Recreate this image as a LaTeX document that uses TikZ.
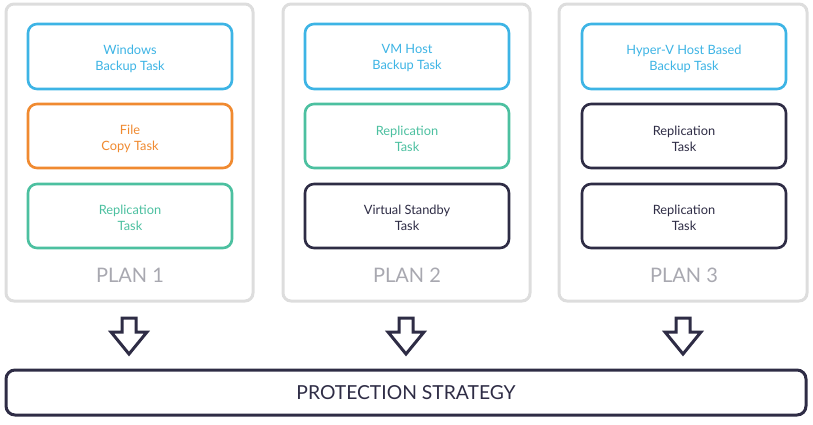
\documentclass[tikz,border=0pt]{standalone}
\usepackage{fontspec}
\setmainfont{Lato}
\begin{document}
\begin{tikzpicture}[x=1pt,y=-1pt,
  plan/.style={draw=planGray, line width=3pt, rounded corners=8pt},
  task/.style={line width=2.6pt, rounded corners=9pt, fill=white},
  tasktext/.style={align=center, font=\fontsize{12.8}{16}\selectfont},
  planlabel/.style={text=planText, font=\fontsize{20}{22}\selectfont},
  bigarrow/.style={draw=darkC, line width=3pt, line join=miter, fill=white}
]
\definecolor{planGray}{HTML}{DDDDDD}
\definecolor{planText}{HTML}{A8A8B0}
\definecolor{blueC}{HTML}{3DB4E5}
\definecolor{orangeC}{HTML}{F08A30}
\definecolor{tealC}{HTML}{4CC0A0}
\definecolor{darkC}{HTML}{2E2C45}
\useasboundingbox (0,0) rectangle (813,424);

% plan containers
\draw[plan] (6,4) rectangle (253,301);
\draw[plan] (283,4) rectangle (530,301);
\draw[plan] (559,4) rectangle (807,301);

% Plan 1
\draw[task, draw=blueC] (28,24) rectangle (232,89);
\node[tasktext, text=blueC] (p1a) at (130,58.5) {Windows\\Backup Task};
\draw[task, draw=orangeC] (28,104) rectangle (232,168);
\node[tasktext, text=orangeC] (p1b) at (130,138.5) {File\\Copy Task};
\draw[task, draw=tealC] (28,184) rectangle (232,248);
\node[tasktext, text=tealC] (p1c) at (130,217.5) {Replication\\Task};
\node[planlabel] (l1) at (130,275) {PLAN 1};

% Plan 2
\draw[task, draw=blueC] (305,24) rectangle (509,89);
\node[tasktext, text=blueC] (p2a) at (407,58.5) {VM Host\\Backup Task};
\draw[task, draw=tealC] (305,104) rectangle (509,168);
\node[tasktext, text=tealC] (p2b) at (407,138.5) {Replication\\Task};
\draw[task, draw=darkC] (305,184) rectangle (509,248);
\node[tasktext, text=darkC] (p2c) at (407,217.5) {Virtual Standby\\Task};
\node[planlabel] (l2) at (407,275) {PLAN 2};

% Plan 3
\draw[task, draw=blueC] (582,24) rectangle (786,89);
\node[tasktext, text=blueC] (p3a) at (684,58.5) {Hyper-V Host Based\\Backup Task};
\draw[task, draw=darkC] (582,104) rectangle (786,168);
\node[tasktext, text=darkC] (p3b) at (684,138.5) {Replication\\Task};
\draw[task, draw=darkC] (582,184) rectangle (786,248);
\node[tasktext, text=darkC] (p3c) at (684,217.5) {Replication\\Task};
\node[planlabel] (l3) at (684,275) {PLAN 3};

% arrows
\foreach \cx in {129,406,683}{
  \draw[bigarrow] (\cx-7,318) -- (\cx+7,318) -- (\cx+7,332) -- (\cx+18,332)
     -- (\cx,354) -- (\cx-18,332) -- (\cx-7,332) -- cycle;
}

% protection strategy
\draw[draw=darkC, line width=3pt, rounded corners=9pt] (6,370) rectangle (806,415);
\node[text=darkC, font=\fontsize{19.3}{22}\selectfont] (ps) at (406,393) {PROTECTION STRATEGY};
\end{tikzpicture}
\end{document}
